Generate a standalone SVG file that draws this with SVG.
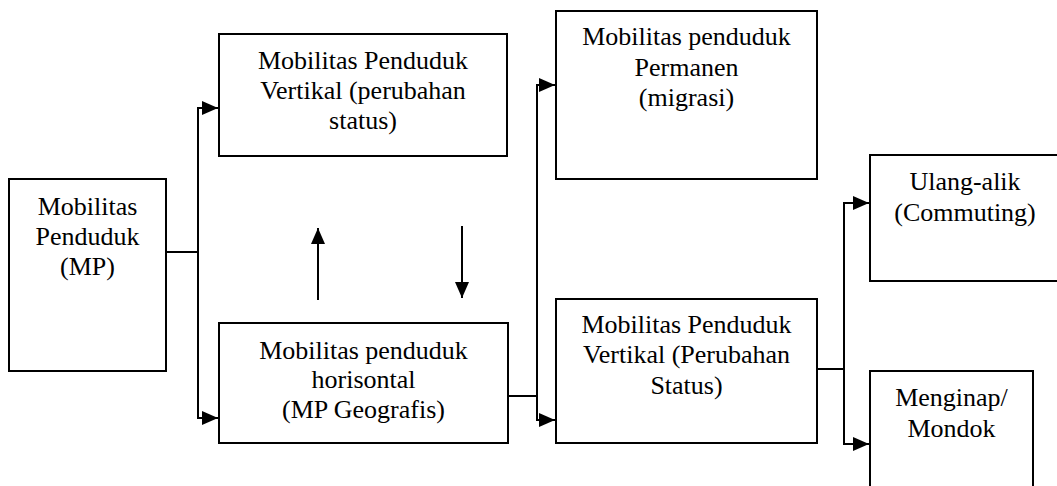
<svg xmlns="http://www.w3.org/2000/svg" width="1057" height="486" viewBox="0 0 1057 486">
<style>
.box{fill:#fff;stroke:#000;stroke-width:2}
.t{font-family:"Liberation Serif","Times New Roman",serif;font-size:26px;fill:#000;text-anchor:middle}
.c{fill:none;stroke:#000;stroke-width:2}
</style>
<defs>
<marker id="ah" markerUnits="userSpaceOnUse" markerWidth="16" markerHeight="14" refX="16" refY="7" orient="auto">
<path d="M0,0 L16,7 L0,14 z" fill="#000"/>
</marker>
</defs>
<rect width="1057" height="486" fill="#fff"/>
<g id="connectors">
<path class="c" d="M166,252 H198"/>
<path class="c" d="M198,252 V108 H218" marker-end="url(#ah)"/>
<path class="c" d="M198,252 V418 H218" marker-end="url(#ah)"/>
<path class="c" d="M508,396 H537"/>
<path class="c" d="M537,396 V85 H555" marker-end="url(#ah)"/>
<path class="c" d="M537,396 V420 H555" marker-end="url(#ah)"/>
<path class="c" d="M817,369 H844"/>
<path class="c" d="M844,369 V203 H869" marker-end="url(#ah)"/>
<path class="c" d="M844,369 V444 H869" marker-end="url(#ah)"/>
<path class="c" d="M318,300 V228" marker-end="url(#ah)"/>
<path class="c" d="M462,226 V298" marker-end="url(#ah)"/>
</g>
<g id="mp">
<rect class="box" x="9" y="179" width="157" height="192"/>
<text class="t" x="87.5" y="215">Mobilitas</text>
<text class="t" x="87.5" y="245">Penduduk</text>
<text class="t" x="87.5" y="275">(MP)</text>
</g>
<g id="vertikal-top">
<rect class="box" x="219" y="34" width="288" height="122"/>
<text class="t" x="363" y="69">Mobilitas Penduduk</text>
<text class="t" x="363" y="99">Vertikal (perubahan</text>
<text class="t" x="363" y="129">status)</text>
</g>
<g id="horisontal">
<rect class="box" x="219" y="323" width="289" height="120"/>
<text class="t" x="363.5" y="359">Mobilitas penduduk</text>
<text class="t" x="363.5" y="388">horisontal</text>
<text class="t" x="363.5" y="418">(MP Geografis)</text>
</g>
<g id="permanen">
<rect class="box" x="556" y="11" width="261" height="168"/>
<text class="t" x="686.5" y="45">Mobilitas penduduk</text>
<text class="t" x="686.5" y="76">Permanen</text>
<text class="t" x="686.5" y="106">(migrasi)</text>
</g>
<g id="vertikal-bottom">
<rect class="box" x="556" y="299" width="261" height="144"/>
<text class="t" x="686.5" y="333">Mobilitas Penduduk</text>
<text class="t" x="686.5" y="363">Vertikal (Perubahan</text>
<text class="t" x="686.5" y="394">Status)</text>
</g>
<g id="ulang-alik">
<rect class="box" x="870" y="155" width="200" height="126"/>
<text class="t" x="965" y="190">Ulang-alik</text>
<text class="t" x="965" y="221">(Commuting)</text>
</g>
<g id="menginap">
<rect class="box" x="870" y="371" width="163" height="130"/>
<text class="t" x="951.5" y="406">Menginap/</text>
<text class="t" x="951.5" y="437">Mondok</text>
</g>
</svg>
